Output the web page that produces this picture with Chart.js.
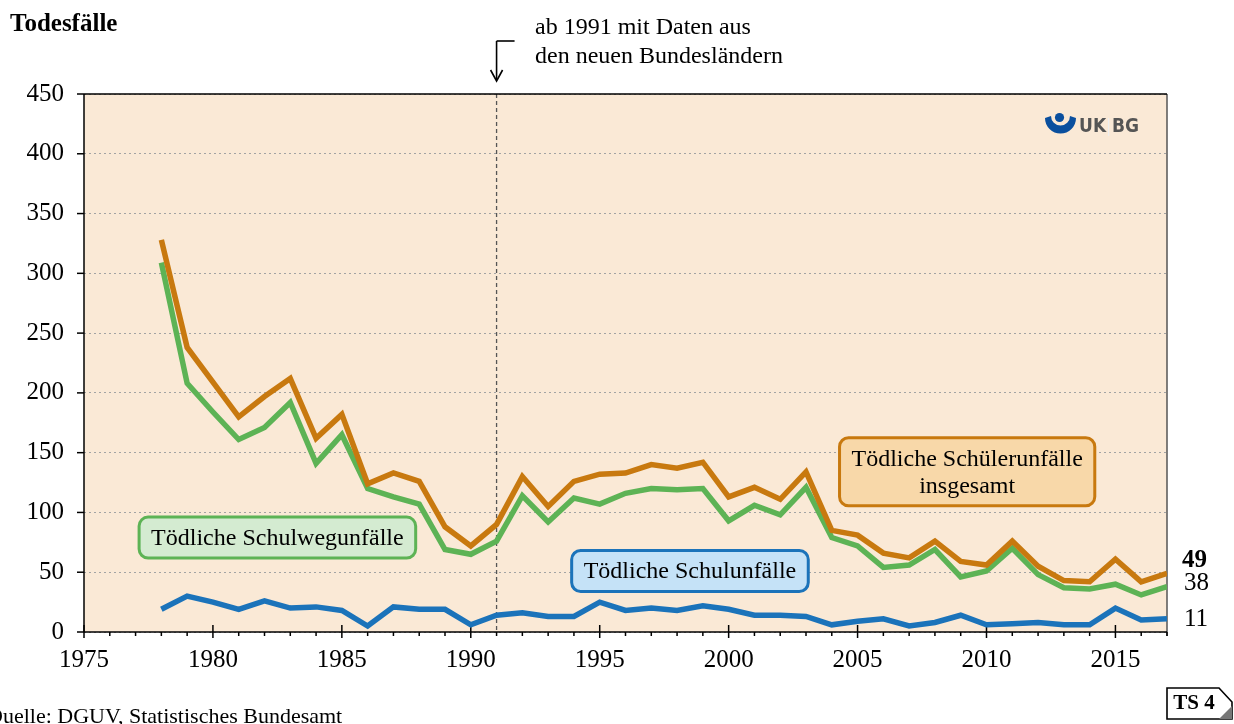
<!DOCTYPE html>
<html>
<head>
<meta charset="utf-8">
<script src="https://cdn.jsdelivr.net/npm/chart.js@4.4.1/dist/chart.umd.min.js"></script>
<style>
  html, body { margin: 0; padding: 0; background: #fff; overflow: hidden; }
  canvas { display: block; }
</style>
</head>
<body>
<canvas id="todesfaelle" width="1234" height="724"></canvas>
<script>
// Jahre und Todesfälle
const jahre = [1978, 1979, 1980, 1981, 1982, 1983, 1984, 1985, 1986, 1987,
               1988, 1989, 1990, 1991, 1992, 1993, 1994, 1995, 1996, 1997,
               1998, 1999, 2000, 2001, 2002, 2003, 2004, 2005, 2006, 2007,
               2008, 2009, 2010, 2011, 2012, 2013, 2014, 2015, 2016, 2017];
const insgesamt = [328, 238, 209, 180, 197, 212, 162, 182, 124, 133,
                   126, 88, 72, 90, 130, 105, 126, 132, 133, 140,
                   137, 142, 113, 121, 111, 134, 85, 81, 66, 62,
                   76, 59, 56, 76, 55, 43, 42, 61, 42, 49];
const schulweg = [309, 208, 184, 161, 171, 192, 141, 165, 120, 113,
                  107, 69, 65, 76, 114, 92, 112, 107, 116, 120,
                  119, 120, 93, 106, 98, 121, 79, 72, 54, 56,
                  69, 46, 51, 70, 48, 37, 36, 40, 31, 38];
const schule = [19, 30, 25, 19, 26, 20, 21, 18, 5, 21,
                19, 19, 6, 14, 16, 13, 13, 25, 18, 20,
                18, 22, 19, 14, 14, 13, 6, 9, 11, 5,
                8, 14, 6, 7, 8, 6, 6, 20, 10, 11];

const xTicks = [1975, 1980, 1985, 1990, 1995, 2000, 2005, 2010, 2015];
const yTicks = [0, 50, 100, 150, 200, 250, 300, 350, 400, 450];

const serif = '"Liberation Serif", "Times New Roman", serif';
const orange = '#c8790f';
const green = '#5db355';
const blue = '#1b73ba';

function pts(values) {
  return jahre.map((j, i) => ({ x: j, y: values[i] }));
}

function seg(ctx, x1, y1, x2, y2) {
  ctx.beginPath();
  ctx.moveTo(x1, y1);
  ctx.lineTo(x2, y2);
  ctx.stroke();
}

// beschriftete Kästen, Mittelpunkt in Datenkoordinaten
function labelBox(ctx, cx, cy, lines, fill, stroke) {
  ctx.save();
  ctx.font = '24px ' + serif;
  const lh = 27;
  const w = Math.max(...lines.map(l => ctx.measureText(l).width)) + 24;
  const h = lines.length * lh + 14;
  ctx.beginPath();
  ctx.roundRect(cx - w / 2, cy - h / 2, w, h, 9);
  ctx.fillStyle = fill;
  ctx.fill();
  ctx.lineWidth = 3;
  ctx.strokeStyle = stroke;
  ctx.stroke();
  ctx.fillStyle = '#000';
  ctx.textAlign = 'center';
  ctx.textBaseline = 'middle';
  lines.forEach((l, i) => {
    ctx.fillText(l, cx, cy - (lines.length - 1) * lh / 2 + i * lh + 1);
  });
  ctx.restore();
}

const plotBackground = {
  id: 'plotBackground',
  beforeDraw(chart) {
    const { ctx, chartArea: a } = chart;
    ctx.save();
    ctx.fillStyle = '#fae9d6';
    ctx.fillRect(a.left, a.top, a.right - a.left, a.bottom - a.top);
    ctx.restore();
  }
};

const frameAndTicks = {
  id: 'frameAndTicks',
  beforeDatasetsDraw(chart) {
    const { ctx, chartArea: a, scales: { x, y } } = chart;
    ctx.save();
    // Datenbruch 1991
    const x91 = x.getPixelForValue(1991);
    ctx.strokeStyle = '#555';
    ctx.lineWidth = 1.3;
    ctx.setLineDash([4, 3]);
    seg(ctx, x91, a.top, x91, a.bottom);
    ctx.setLineDash([]);

    ctx.lineWidth = 1.5;
    ctx.strokeStyle = '#555';
    seg(ctx, a.right, a.top, a.right, a.bottom + 4);
    ctx.strokeStyle = '#000';
    seg(ctx, a.left, a.top, a.right, a.top);
    seg(ctx, a.left, a.top, a.left, a.bottom);
    seg(ctx, a.left, a.bottom, a.right, a.bottom);

    yTicks.forEach(v => {
      const py = y.getPixelForValue(v);
      seg(ctx, a.left - 7, py, a.left, py);
    });
    for (let j = x.min; j <= x.max; j++) {
      const px = x.getPixelForValue(j);
      if (xTicks.includes(j)) seg(ctx, px, a.bottom - 7, px, a.bottom + 6);
      else seg(ctx, px, a.bottom, px, a.bottom + 4);
    }
    ctx.restore();
  },
  afterDatasetsDraw(chart) {
    const { ctx, scales: { x, y } } = chart;
    labelBox(ctx, x.getPixelForValue(1982.5), y.getPixelForValue(79),
      ['Tödliche Schulwegunfälle'], '#d4ebd1', green);
    labelBox(ctx, x.getPixelForValue(1998.5), y.getPixelForValue(51),
      ['Tödliche Schulunfälle'], '#c5e2f7', blue);
    labelBox(ctx, x.getPixelForValue(2009.25), y.getPixelForValue(134),
      ['Tödliche Schülerunfälle', 'insgesamt'], '#f8d8a9', orange);

    // Logo
    ctx.save();
    ctx.fillStyle = '#0a4f9e';
    ctx.beginPath();
    ctx.arc(1059.5, 117.5, 4.6, 0, Math.PI * 2);
    ctx.fill();
    ctx.beginPath();
    ctx.arc(1060.5, 118, 15.5, 0, Math.PI, false);
    ctx.arc(1060.5, 116, 9.5, Math.PI, 0, true);
    ctx.closePath();
    ctx.fill();
    ctx.fillStyle = '#555';
    ctx.font = 'bold 19px "DejaVu Sans Condensed", "DejaVu Sans", sans-serif';
    ctx.textBaseline = 'middle';
    ctx.fillText('UK', 1079, 127);
    ctx.fillText('BG', 1112, 127);
    ctx.fillStyle = '#eee';
    ctx.fillRect(1108, 118, 1.2, 18);
    ctx.restore();
  }
};

const outerTexts = {
  id: 'outerTexts',
  afterDraw(chart) {
    const { ctx, chartArea: a, scales: { x, y } } = chart;
    ctx.save();
    ctx.fillStyle = '#000';
    ctx.textBaseline = 'middle';
    ctx.textAlign = 'left';

    ctx.font = 'bold 25px ' + serif;
    ctx.fillText('Todesfälle', 10, 25);

    ctx.font = '24px ' + serif;
    ctx.fillText('ab 1991 mit Daten aus', 535, 28);
    ctx.fillText('den neuen Bundesländern', 535, 57);

    const x91 = x.getPixelForValue(1991);
    ctx.strokeStyle = '#000';
    ctx.lineWidth = 1.6;
    seg(ctx, x91 + 18, 41, x91, 41);
    seg(ctx, x91, 41, x91, 80);
    ctx.beginPath();
    ctx.moveTo(x91 - 6, 70);
    ctx.lineTo(x91, 81);
    ctx.lineTo(x91 + 6, 70);
    ctx.stroke();

    // Endwerte 2017
    const n = jahre.length - 1;
    ctx.font = 'bold 25px ' + serif;
    ctx.fillText(String(insgesamt[n]), a.right + 15, y.getPixelForValue(insgesamt[n]) - 13);
    ctx.font = '25px ' + serif;
    ctx.fillText(String(schulweg[n]), a.right + 17, y.getPixelForValue(schulweg[n]) - 3);
    ctx.fillText(String(schule[n]), a.right + 17, y.getPixelForValue(schule[n]) + 1);

    ctx.font = '22px ' + serif;
    ctx.fillText('Quelle: DGUV, Statistisches Bundesamt', -13, 717);

    // Kennung unten rechts
    ctx.beginPath();
    ctx.moveTo(1167, 688);
    ctx.lineTo(1219, 688);
    ctx.lineTo(1232, 702);
    ctx.lineTo(1232, 719);
    ctx.lineTo(1167, 719);
    ctx.closePath();
    ctx.fillStyle = '#fff';
    ctx.fill();
    ctx.stroke();
    ctx.fillStyle = '#777';
    ctx.beginPath();
    ctx.moveTo(1219, 719);
    ctx.lineTo(1232, 706);
    ctx.lineTo(1232, 719);
    ctx.closePath();
    ctx.fill();
    ctx.fillStyle = '#000';
    ctx.font = 'bold 21px ' + serif;
    ctx.textAlign = 'center';
    ctx.fillText('TS 4', 1194, 704);
    ctx.restore();
  }
};

new Chart(document.getElementById('todesfaelle'), {
  type: 'line',
  data: {
    datasets: [
      { label: 'Tödliche Schülerunfälle insgesamt', data: pts(insgesamt), borderColor: orange, borderWidth: 5.5 },
      { label: 'Tödliche Schulwegunfälle', data: pts(schulweg), borderColor: green, borderWidth: 5.5 },
      { label: 'Tödliche Schulunfälle', data: pts(schule), borderColor: blue, borderWidth: 5.5 }
    ]
  },
  options: {
    responsive: false,
    animation: false,
    devicePixelRatio: 1,
    layout: { padding: { top: 94, right: 67, bottom: 0, left: 0 } },
    elements: {
      point: { radius: 0 },
      line: { tension: 0, fill: false }
    },
    plugins: { legend: { display: false }, tooltip: { enabled: false } },
    scales: {
      x: {
        type: 'linear',
        min: 1975,
        max: 2017,
        afterBuildTicks: s => { s.ticks = xTicks.map(v => ({ value: v })); },
        afterFit: s => { s.height = 92; },
        grid: { display: false, drawTicks: false },
        border: { display: false },
        ticks: {
          padding: 13,
          color: '#000',
          font: { family: serif, size: 25 },
          maxRotation: 0,
          autoSkip: false,
          callback: v => String(v)
        }
      },
      y: {
        min: 0,
        max: 450,
        afterBuildTicks: s => { s.ticks = yTicks.map(v => ({ value: v })); },
        afterFit: s => { s.width = 84; },
        grid: { color: '#a3a3a3', lineWidth: 1, drawTicks: false },
        border: { display: false, dash: [2, 3] },
        ticks: {
          padding: 20,
          color: '#000',
          font: { family: serif, size: 25 }
        }
      }
    }
  },
  plugins: [plotBackground, frameAndTicks, outerTexts]
});
</script>
</body>
</html>
